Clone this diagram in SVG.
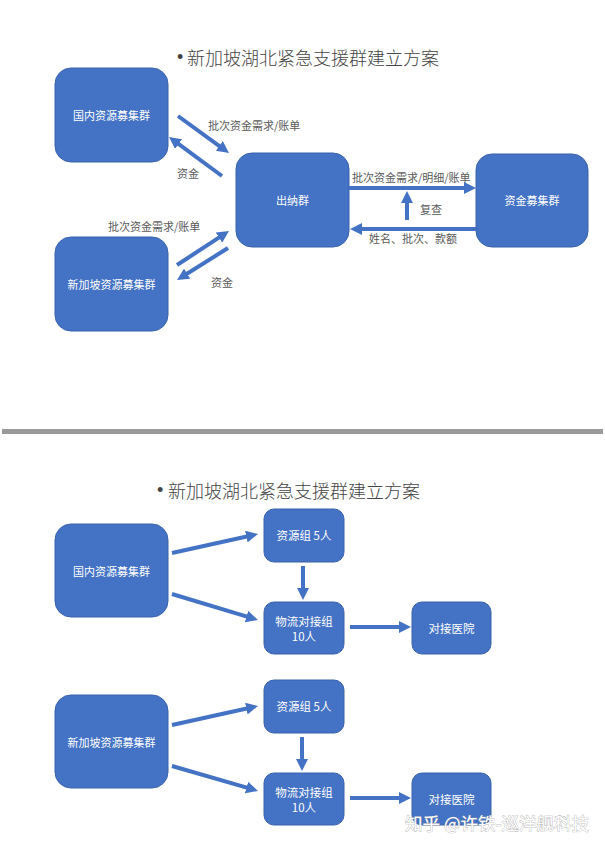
<svg xmlns="http://www.w3.org/2000/svg" width="605" height="848" viewBox="0 0 605 848">
<style>
.box{fill:#4472C4;stroke:#3a63ad;stroke-width:1}
.bt{font-family:"Noto Sans CJK SC","Noto Sans",sans-serif;font-size:11px;fill:#ffffff;text-anchor:middle;dominant-baseline:central}
.bs{font-size:11.5px}
.lb{font-family:"Noto Sans CJK SC","Noto Sans",sans-serif;font-size:11px;fill:#595959;dominant-baseline:central}
.title{font-family:"Noto Sans CJK SC","Noto Sans",sans-serif;font-size:18px;fill:#444444;dominant-baseline:central;font-weight:300}
.bul{font-family:"Liberation Sans",sans-serif;font-size:18px;fill:#444444;dominant-baseline:central}
.ar{stroke:#4472C4;stroke-width:4;fill:none;marker-end:url(#ah)}
.wm{font-family:"Noto Sans CJK SC","Noto Sans",sans-serif;font-size:17.5px;fill:#ffffff;stroke:#a8a8a8;stroke-width:0.7;paint-order:stroke;dominant-baseline:central}
</style>
<defs>
<marker id="ah" markerUnits="userSpaceOnUse" markerWidth="12" markerHeight="12" refX="4" refY="6" orient="auto">
<path d="M0,0 L12,6 L0,12 Z" fill="#4472C4"/>
</marker>
</defs>
<rect width="605" height="848" fill="#ffffff"/>

<text class="bul" x="177" y="57">•</text>
<text class="title" x="187" y="57">新加坡湖北紧急支援群建立方案</text>

<g id="n-guonei-top"><rect class="box" x="55" y="68" width="113" height="94" rx="16"/><text class="bt" x="111.5" y="115">国内资源募集群</text></g>
<g id="n-chuna"><rect class="box" x="236" y="153" width="113" height="94" rx="16"/><text class="bt" x="292.5" y="200">出纳群</text></g>
<g id="n-zijin"><rect class="box" x="476" y="154" width="112" height="93" rx="16"/><text class="bt" x="532" y="200">资金募集群</text></g>
<g id="n-xjp-top"><rect class="box" x="55" y="237" width="113" height="94" rx="16"/><text class="bt" x="111.5" y="284">新加坡资源募集群</text></g>

<g id="connectors-top">
<line class="ar" x1="178" y1="116" x2="222.5" y2="148.3"/>
<line class="ar" x1="222" y1="176" x2="175.4" y2="141.7"/>
<line class="ar" x1="177" y1="265" x2="222.3" y2="235.4"/>
<line class="ar" x1="228" y1="248" x2="183.8" y2="275.8"/>
<line class="ar" x1="349" y1="188" x2="468" y2="188"/>
<line class="ar" x1="476" y1="229" x2="358" y2="229"/>
<line class="ar" x1="407" y1="220" x2="407" y2="199"/>
<text class="lb" x="208" y="125">批次资金需求/账单</text>
<text class="lb" x="177" y="173">资金</text>
<text class="lb" x="108" y="226">批次资金需求/账单</text>
<text class="lb" x="211" y="282">资金</text>
<text class="lb" x="352" y="177">批次资金需求/明细/账单</text>
<text class="lb" x="420" y="209">复查</text>
<text class="lb" x="369" y="238">姓名、批次、款额</text>
</g>

<rect x="2" y="429" width="601" height="5" fill="#9a9a9a"/>

<text class="bul" x="157" y="490">•</text>
<text class="title" x="168" y="490">新加坡湖北紧急支援群建立方案</text>

<g id="n-guonei-b"><rect class="box" x="55" y="524" width="113" height="93" rx="16"/><text class="bt" x="111.5" y="571">国内资源募集群</text></g>
<g id="n-ziyuan-1"><rect class="box" x="264" y="509" width="80" height="53" rx="10"/><text class="bt bs" x="304" y="535">资源组 5人</text></g>
<g id="n-wuliu-1"><rect class="box" x="264" y="602" width="80" height="52" rx="10"/><text class="bt bs" x="304" y="621">物流对接组</text><text class="bt bs" x="304" y="636">10人</text></g>
<g id="n-yiyuan-1"><rect class="box" x="412" y="602" width="79" height="52" rx="10"/><text class="bt bs" x="451.5" y="628">对接医院</text></g>

<g id="n-xjp-b"><rect class="box" x="55" y="695" width="113" height="93" rx="16"/><text class="bt" x="111.5" y="742">新加坡资源募集群</text></g>
<g id="n-ziyuan-2"><rect class="box" x="264" y="680" width="80" height="53" rx="10"/><text class="bt bs" x="304" y="706">资源组 5人</text></g>
<g id="n-wuliu-2"><rect class="box" x="264" y="773" width="80" height="52" rx="10"/><text class="bt bs" x="304" y="792">物流对接组</text><text class="bt bs" x="304" y="807">10人</text></g>
<g id="n-yiyuan-2"><rect class="box" x="412" y="773" width="79" height="52" rx="10"/><text class="bt bs" x="451.5" y="799">对接医院</text></g>

<g id="connectors-bottom">
<line class="ar" x1="172" y1="553" x2="250.2" y2="535.7"/>
<line class="ar" x1="172" y1="594" x2="250.3" y2="617.7"/>
<line class="ar" x1="303" y1="566" x2="303" y2="592"/>
<line class="ar" x1="350" y1="627" x2="403" y2="627"/>
<line class="ar" x1="172" y1="725" x2="250.2" y2="707.7"/>
<line class="ar" x1="172" y1="766" x2="250.3" y2="788.7"/>
<line class="ar" x1="302" y1="737" x2="302" y2="763"/>
<line class="ar" x1="350" y1="798" x2="403" y2="798"/>
</g>

<text class="wm" x="405" y="822">知乎 @许铁-巡洋舰科技</text>
</svg>
